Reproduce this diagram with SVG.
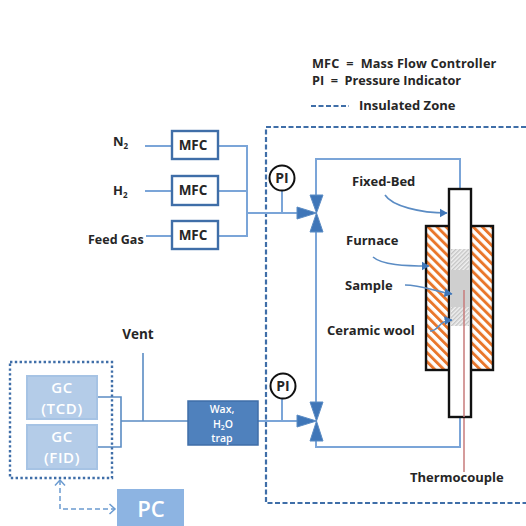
<svg xmlns="http://www.w3.org/2000/svg" width="526" height="526" viewBox="0 0 526 526">
<style>
text{font-family:"Open Sans","Liberation Sans",sans-serif;font-weight:700;fill:#262626;font-size:13px}
.c{text-anchor:middle}
.l{fill:none;stroke:#7ba5d8;stroke-width:2}
.t{fill:none;stroke:#5b8cc4;stroke-width:1.6}
.m{fill:#fff;stroke:#3f6ea8;stroke-width:2.4}
.mt{font-size:13.5px}
.v{fill:#3f76b8;stroke:#5b8cc4;stroke-width:1}
.pi{fill:#fff;stroke:#111;stroke-width:2}
.g{fill:#b4cce8;stroke:#a6c3e4;stroke-width:2}
.gt{fill:#fff;font-size:15px;font-weight:600;letter-spacing:.6px}
.w{fill:#fff;font-size:10.5px;font-weight:600}
</style>
<defs>
<pattern id="hatch" width="6.4" height="6.4" patternUnits="userSpaceOnUse" patternTransform="rotate(-45)">
<rect width="6.4" height="6.4" fill="#fff"/><rect width="2.9" height="6.4" fill="#e9762b"/>
</pattern>
<pattern id="wool" width="3" height="3" patternUnits="userSpaceOnUse" patternTransform="rotate(45)">
<rect width="3" height="3" fill="#f0f0f0"/><rect width="1.4" height="3" fill="#c4c4c4"/>
</pattern>
<marker id="arr" markerWidth="9" markerHeight="10" refX="7.5" refY="5" orient="auto" markerUnits="userSpaceOnUse"><path d="M0,0.5L8,5L0,9.5Z" fill="#3f76b8"/></marker>
<marker id="op" markerWidth="10" markerHeight="12" refX="7.5" refY="6" orient="auto-start-reverse" markerUnits="userSpaceOnUse"><path d="M2,1L7.5,6L2,11" fill="none" stroke="#6b9bd0" stroke-width="1.5"/></marker>
</defs>

<g id="legend">
<text x="312" y="67.500" xml:space="preserve" style="font-size:12.700px;letter-spacing:.15px">MFC  =  Mass Flow Controller</text>
<text x="312" y="85" xml:space="preserve" style="font-size:12.700px">PI  =  Pressure Indicator</text>
<line x1="311" y1="106" x2="349" y2="106" stroke="#3f6ea8" stroke-width="2" stroke-dasharray="5 2.5"/>
<text x="359" y="110">Insulated Zone</text>
</g>

<g id="insulated-zone">
<path d="M526,127H266V503H526" fill="none" stroke="#3f6ea8" stroke-width="2.2" stroke-dasharray="5 2.5"/>
</g>

<g id="connectors">
<path class="l" d="M145,146H172M218,146H247V236H218M145,191H172M218,191H247M146,236H172M247,213H300"/>
<path class="l" d="M282,190V213"/>
<path class="l" d="M316,195V159H460V189"/>
<path class="l" d="M316,232V402"/>
<path class="l" d="M316,441V447H460V417"/>
<path class="l" d="M258,421H300M282,398V421"/>
<path class="t" d="M97,397H121V447H97M121,421H188M143,353V421"/>
<path d="M60,480V509H115" fill="none" stroke="#6b9bd0" stroke-width="1.5" stroke-dasharray="5 3" marker-start="url(#op)" marker-end="url(#op)"/>
<path d="M464,417V472" stroke="#c77b7b" stroke-width="1.5" fill="none"/>
</g>

<g id="label-gases">
<text x="113" y="146">N<tspan dy="3" style="font-size:8px">2</tspan></text>
<text x="113" y="195">H<tspan dy="3" style="font-size:8px">2</tspan></text>
<text x="88" y="244" style="font-size:12.500px">Feed Gas</text>
<text x="138" y="339" class="c" style="font-size:13.500px">Vent</text>
</g>

<g id="mfc-n2"><rect class="m" x="172" y="131" width="46" height="28"/><text class="c mt" x="193" y="150">MFC</text></g>
<g id="mfc-h2"><rect class="m" x="172" y="176" width="46" height="29"/><text class="c mt" x="193" y="195">MFC</text></g>
<g id="mfc-feed"><rect class="m" x="172" y="221" width="46" height="28"/><text class="c mt" x="193" y="240">MFC</text></g>

<g id="pi-top"><circle class="pi" cx="282" cy="178" r="12.5"/><text class="c" x="282" y="183" style="font-size:14px">PI</text></g>
<g id="pi-bottom"><circle class="pi" cx="283" cy="386" r="12.5"/><text class="c" x="283" y="391" style="font-size:14px">PI</text></g>

<g id="valve-top">
<path class="v" d="M297,207L316.500,213L297,219Z"/>
<path class="v" d="M310,195H323L316.500,213Z"/>
<path class="v" d="M310,232H323L316.500,213Z"/>
</g>
<g id="valve-bottom">
<path class="v" d="M297,415L316.500,421L297,427Z"/>
<path class="v" d="M310,402H323L316.500,421Z"/>
<path class="v" d="M310,441H323L316.500,421Z"/>
</g>

<g id="furnace">
<rect x="426" y="226" width="67" height="144" fill="url(#hatch)" stroke="#111" stroke-width="2.4"/>
</g>
<g id="reactor">
<rect x="449" y="189" width="22" height="228" fill="#fff" stroke="#111" stroke-width="2.4"/>
<rect x="451" y="249" width="18" height="21" fill="url(#wool)"/>
<rect x="451" y="270" width="18" height="37" fill="#cfcfcf"/>
<rect x="451" y="307" width="18" height="19" fill="url(#wool)"/>
<path d="M464,290V417" stroke="#c77b7b" stroke-width="1.5" fill="none"/>
</g>

<g id="callouts">
<text x="352" y="186">Fixed-Bed</text>
<path class="t" d="M385,195C392,206 420,213 447,213" marker-end="url(#arr)"/>
<text x="346" y="245">Furnace</text>
<path class="t" d="M373,257C382,265 405,266 429,266" marker-end="url(#arr)"/>
<text x="345" y="290">Sample</text>
<path class="t" d="M405,285C420,285 435,291 452,294" marker-end="url(#arr)"/>
<text x="327" y="335">Ceramic wool</text>
<path class="t" d="M430,331C440,331 437,321 452,320" marker-end="url(#arr)"/>
<text x="410" y="482">Thermocouple</text>
</g>

<g id="gc-group"><rect x="10" y="362" width="102" height="116" fill="none" stroke="#3f6ea8" stroke-width="2.4" stroke-dasharray="2.4 2.4"/></g>
<g id="gc-tcd"><rect class="g" x="27" y="376" width="70" height="43"/><text class="c gt" x="62" y="393">GC</text><text class="c gt" x="62" y="414">(TCD)</text></g>
<g id="gc-fid"><rect class="g" x="27" y="425" width="70" height="44"/><text class="c gt" x="62" y="442">GC</text><text class="c gt" x="62" y="463">(FID)</text></g>
<g id="trap"><rect x="188" y="401" width="70" height="44" fill="#4f81bd" stroke="#3f6ea8" stroke-width="1.5"/>
<text class="c w" x="222" y="413">Wax,</text><text class="c w" x="223" y="428">H<tspan dy="1.500" style="font-size:7px">2</tspan><tspan dy="-1.500">O</tspan></text><text class="c w" x="222" y="442">trap</text></g>
<g id="pc"><rect x="117" y="489" width="67" height="37" fill="#8db4e2"/><text class="c" x="151" y="517" style="fill:#fff;font-size:22px;font-weight:600">PC</text></g>
</svg>
